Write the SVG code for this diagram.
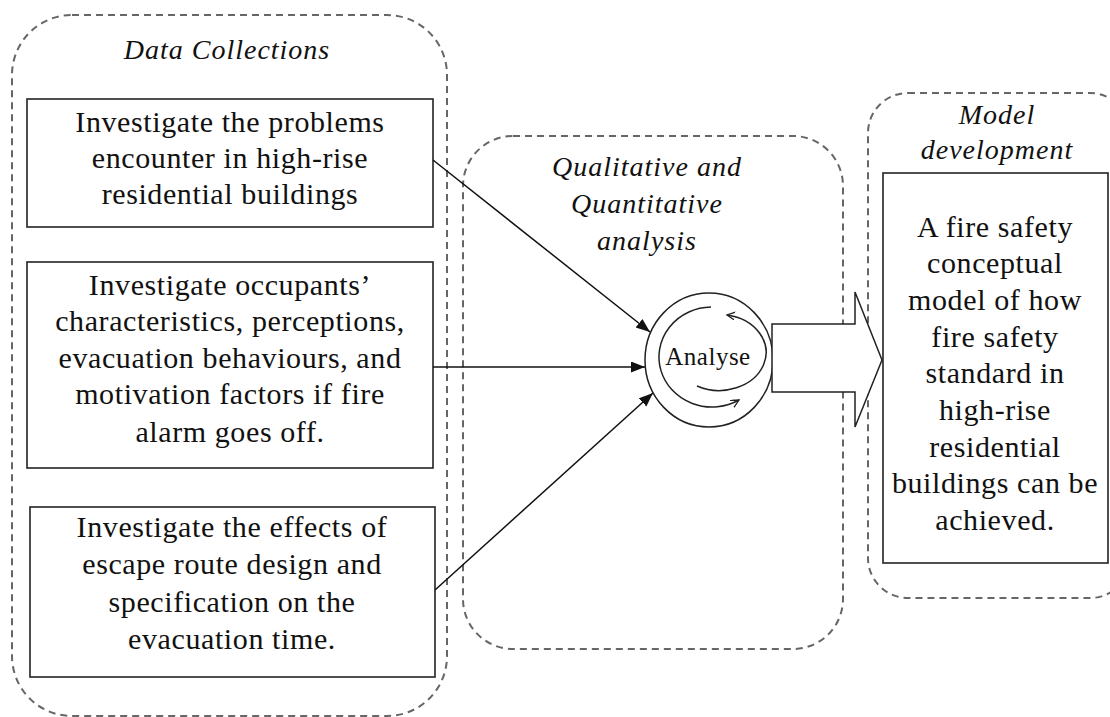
<svg xmlns="http://www.w3.org/2000/svg" width="1110" height="717" viewBox="0 0 1110 717">
  <style>
    .zone { fill: none; stroke: #666; stroke-width: 2; stroke-dasharray: 7 5; }
    .box { fill: #fff; stroke: #222; stroke-width: 1.6; }
    .txt { font-family: "Liberation Serif", "Times New Roman", serif; font-size: 30px; letter-spacing: 0.6px; fill: #111; text-anchor: middle; }
    .lbl { font-family: "Liberation Serif", "Times New Roman", serif; font-size: 28px; font-style: italic; letter-spacing: 1px; fill: #111; text-anchor: middle; }
    .link { fill: none; stroke: #111; stroke-width: 1.5; marker-end: url(#head); }
    .spin { fill: none; stroke: #222; stroke-width: 1.5; marker-end: url(#open); }
  </style>
  <defs>
    <marker id="head" markerUnits="userSpaceOnUse" markerWidth="15" markerHeight="12" refX="14" refY="5.5" orient="auto">
      <path d="M0,0 L14,5.5 L0,11 z" fill="#111"/>
    </marker>
    <marker id="open" markerUnits="userSpaceOnUse" markerWidth="10" markerHeight="10" refX="8" refY="4" orient="auto">
      <path d="M0,0 L8,4 L0,8" fill="none" stroke="#222" stroke-width="1.3"/>
    </marker>
  </defs>
  <rect width="1110" height="717" fill="#fff"/>

  <!-- stage zones -->
  <g id="zone-data">
    <rect class="zone" x="12" y="15" width="435" height="701" rx="60" ry="60"/>
    <text class="lbl" x="227" y="59">Data Collections</text>
  </g>
  <g id="zone-analysis">
    <rect class="zone" x="463" y="136" width="380" height="513" rx="50" ry="50"/>
    <text class="lbl" x="647" y="176">Qualitative and</text>
    <text class="lbl" x="647" y="213">Quantitative</text>
    <text class="lbl" x="647" y="250">analysis</text>
  </g>
  <g id="zone-model">
    <rect class="zone" x="868" y="93" width="262" height="505" rx="40" ry="40"/>
    <text class="lbl" x="997" y="124">Model</text>
    <text class="lbl" x="997" y="159">development</text>
  </g>

  <!-- data collection tasks -->
  <g id="task-problems">
    <rect class="box" x="27" y="99" width="406" height="128"/>
    <text class="txt" x="230" y="132">Investigate the problems</text>
    <text class="txt" x="230" y="168">encounter in high-rise</text>
    <text class="txt" x="230" y="204">residential buildings</text>
  </g>
  <g id="task-occupants">
    <rect class="box" x="27" y="262" width="406" height="206"/>
    <text class="txt" x="230" y="295">Investigate occupants’</text>
    <text class="txt" x="230" y="331">characteristics, perceptions,</text>
    <text class="txt" x="230" y="368">evacuation behaviours, and</text>
    <text class="txt" x="230" y="404">motivation factors if fire</text>
    <text class="txt" x="230" y="442">alarm goes off.</text>
  </g>
  <g id="task-escape">
    <rect class="box" x="30" y="507" width="405" height="170"/>
    <text class="txt" x="232" y="537">Investigate the effects of</text>
    <text class="txt" x="232" y="574">escape route design and</text>
    <text class="txt" x="232" y="612">specification on the</text>
    <text class="txt" x="232" y="649">evacuation time.</text>
  </g>

  <!-- connectors into the analysis cycle -->
  <g id="connectors">
    <path class="link" d="M433,160 L650,332"/>
    <path class="link" d="M433,367 L645,367"/>
    <path class="link" d="M435,590 L653,393"/>
  </g>

  <!-- analysis cycle -->
  <g id="analyse">
    <ellipse cx="709" cy="360" rx="64" ry="67" fill="#fff" stroke="#222" stroke-width="1.5"/>
    <path class="spin" d="M711,307 A53,50 0 1 0 739,400"/>
    <path class="spin" d="M697,386 A47,38 0 1 0 727,315"/>
    <text x="708" y="365" font-family="'Liberation Serif', 'Times New Roman', serif" font-size="25" letter-spacing="0.5" fill="#111" text-anchor="middle">Analyse</text>
  </g>

  <!-- block arrow towards the model -->
  <g id="flow-arrow">
    <polygon points="772,324 855,324 855,292 882,360 855,427 855,392 772,392" fill="#fff" stroke="#222" stroke-width="1.5" stroke-linejoin="miter"/>
  </g>

  <!-- resulting model -->
  <g id="model">
    <rect class="box" x="883" y="173" width="225" height="390"/>
    <text class="txt" x="995" y="237">A fire safety</text>
    <text class="txt" x="995" y="273">conceptual</text>
    <text class="txt" x="995" y="310">model of how</text>
    <text class="txt" x="995" y="347">fire safety</text>
    <text class="txt" x="995" y="383">standard in</text>
    <text class="txt" x="995" y="420">high-rise</text>
    <text class="txt" x="995" y="457">residential</text>
    <text class="txt" x="995" y="493">buildings can be</text>
    <text class="txt" x="995" y="530">achieved.</text>
  </g>
</svg>
